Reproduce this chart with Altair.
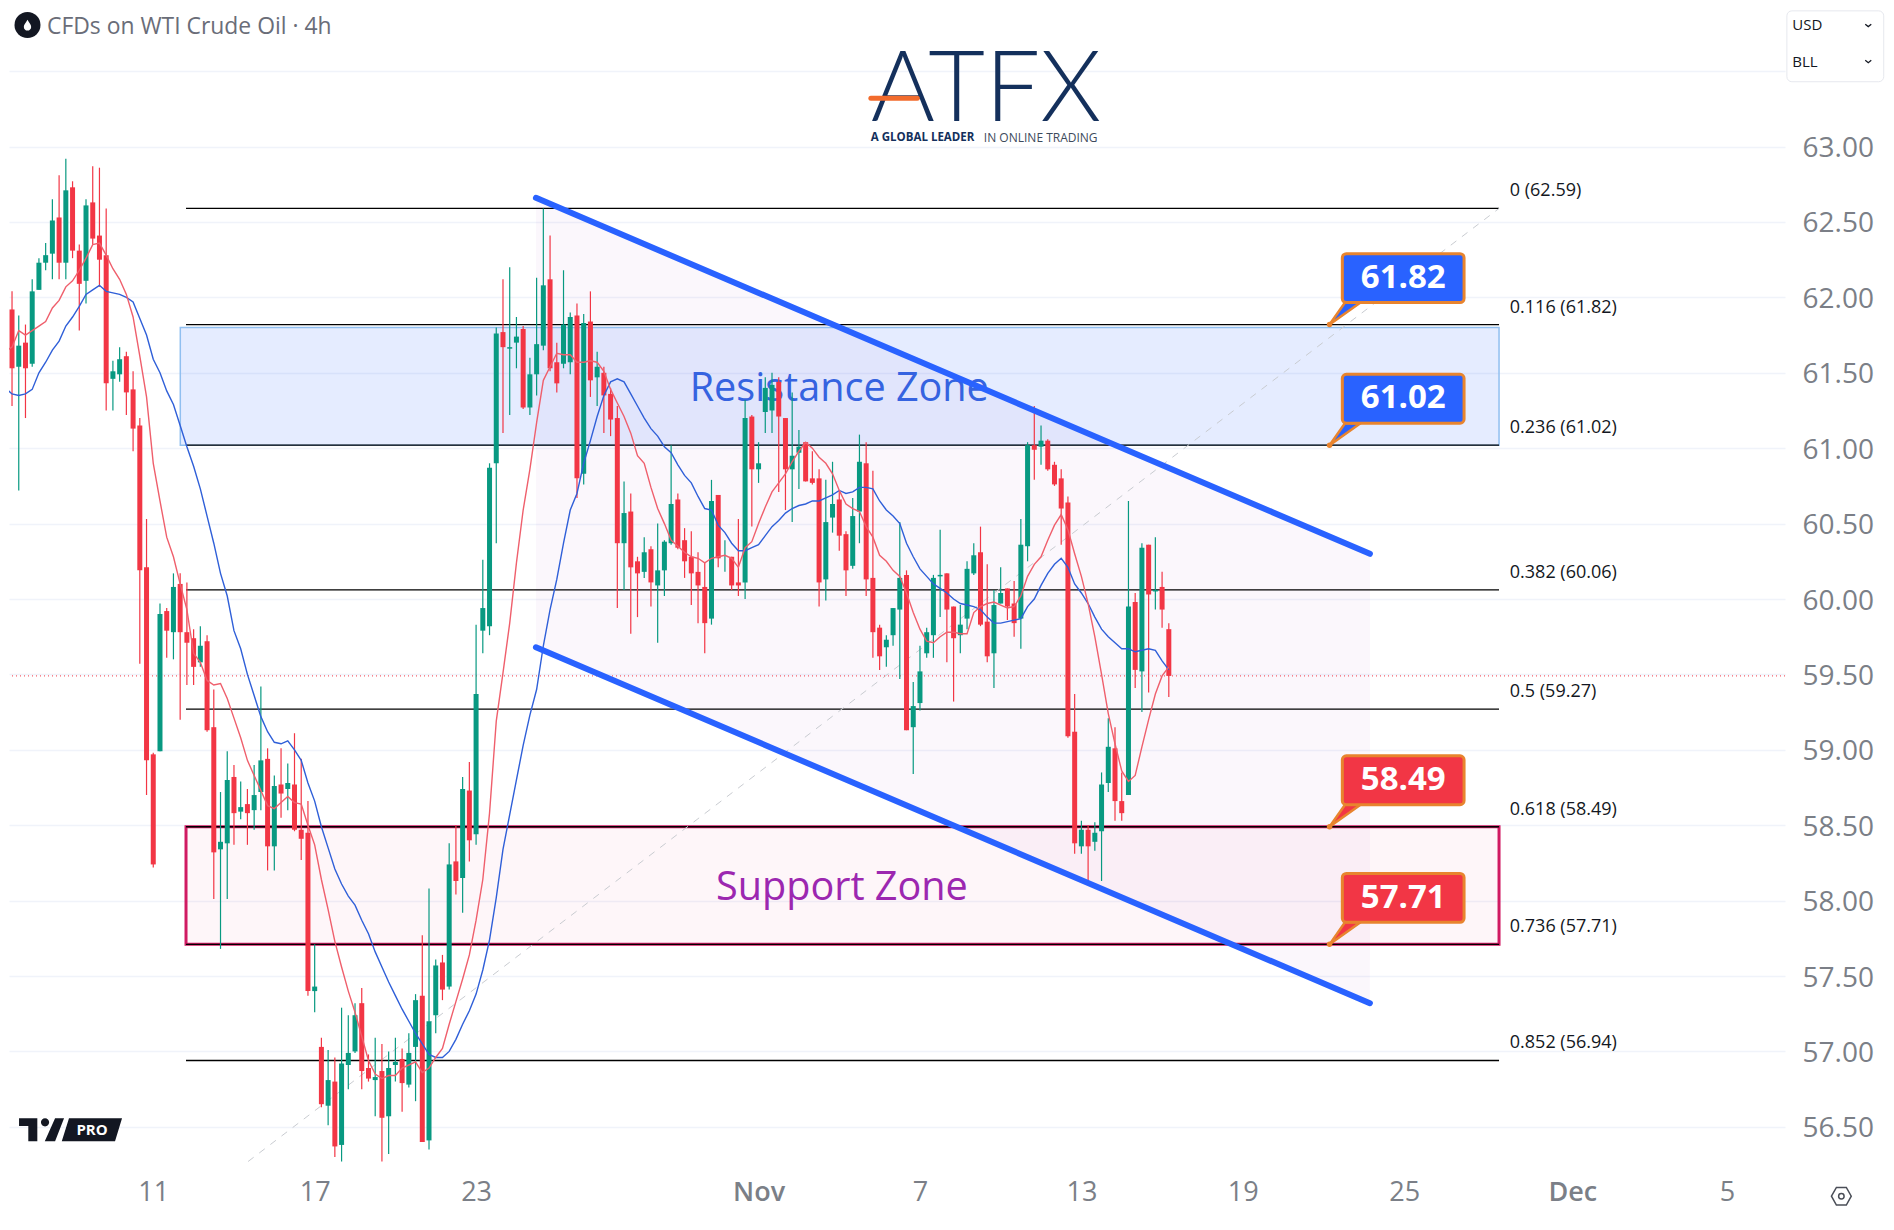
import altair as alt
import pandas as pd

# ---------------------------------------------------------------------------
# Candles (bar index = position in these lists)
# ---------------------------------------------------------------------------
highs = [
    61.96,62.04,61.88,61.82,62.12,62.26,62.36,62.65,62.81,62.92,
    62.77,62.35,62.65,62.87,62.86,62.59,61.58,61.67,61.64,61.51,
    61.20,60.53,58.98,59.97,59.94,60.17,60.17,60.11,59.80,59.82,
    59.76,59.40,58.72,58.99,58.90,58.79,58.74,58.90,59.42,59.01,
    58.83,59.01,58.91,59.11,58.94,58.66,57.71,57.09,57.01,56.96,
    57.29,57.24,57.32,57.42,56.98,57.09,57.05,57.00,57.09,57.02,
    57.12,57.38,57.77,58.08,57.61,57.64,58.38,58.50,58.82,58.92,
    59.83,60.26,60.90,61.80,62.12,62.20,61.87,61.81,61.60,62.13,
    62.59,62.41,61.70,62.18,61.90,61.96,61.89,62.04,61.64,61.54,
    61.40,61.28,60.78,60.70,60.28,60.41,60.35,60.50,60.39,61.02,
    60.70,60.47,60.45,60.31,60.24,60.79,60.69,60.39,60.28,60.53,
    61.32,61.22,61.04,61.47,61.50,61.47,61.20,61.37,61.12,61.04,
    60.98,60.86,60.79,60.91,60.72,60.45,60.67,61.09,61.04,60.85,
    59.83,59.76,59.94,60.51,60.19,59.45,59.69,59.81,60.16,60.46,
    60.17,59.95,59.96,60.25,60.37,60.48,60.23,60.06,60.21,60.07,
    60.12,60.53,61.04,61.28,61.15,61.06,60.91,60.86,60.68,59.37,
    58.53,58.50,58.52,58.85,59.21,59.15,58.85,60.65,60.04,60.37,
    60.36,60.41,60.18,59.84,
]
body_tops = [
    61.90,61.92,61.68,61.70,62.04,62.23,62.28,62.51,62.53,62.71,
    62.73,62.31,62.61,62.63,62.41,62.28,61.51,61.59,61.61,61.39,
    61.15,60.21,58.97,59.90,59.92,60.08,60.10,59.78,59.74,59.69,
    59.72,59.15,58.39,58.80,58.82,58.62,58.64,58.70,58.93,58.94,
    58.76,58.77,58.78,58.77,58.47,58.45,57.43,57.03,56.81,56.80,
    56.92,56.99,57.24,57.32,56.89,56.83,56.87,56.89,56.93,56.95,
    56.99,57.34,57.37,57.20,57.57,57.59,58.24,58.26,58.74,58.73,
    59.37,59.94,60.87,61.76,61.77,61.67,61.74,61.79,61.49,61.69,
    62.08,62.12,61.57,61.82,61.87,61.88,61.83,61.84,61.54,61.50,
    61.36,61.20,60.57,60.58,60.25,60.31,60.33,60.19,60.38,60.63,
    60.66,60.39,60.28,60.18,60.08,60.65,60.69,60.29,60.28,60.11,
    61.20,61.21,60.90,61.40,61.42,61.44,61.20,60.95,61.01,61.04,
    60.80,60.80,60.51,60.63,60.66,60.43,60.55,60.91,60.90,60.14,
    59.81,59.73,59.94,60.14,60.16,59.29,59.52,59.78,60.14,60.16,
    60.17,59.95,59.83,60.20,60.29,60.31,59.85,59.96,60.04,60.07,
    59.97,60.36,61.02,61.02,61.05,61.05,60.89,60.80,60.64,59.12,
    58.47,58.47,58.45,58.77,59.02,59.01,58.66,59.95,59.98,60.34,
    60.36,60.06,60.08,59.80,
]
body_bottoms = [
    61.74,61.53,61.54,61.53,61.56,62.05,62.23,62.29,62.23,62.23,
    62.31,62.09,62.11,62.39,62.25,61.43,61.46,61.49,61.37,61.13,
    60.19,58.93,58.24,58.99,59.79,59.78,59.78,59.71,59.55,59.58,
    59.13,58.32,58.34,58.38,58.58,58.59,58.58,58.60,58.72,58.36,
    58.36,58.71,58.74,58.47,58.41,57.40,57.40,56.65,56.64,56.37,
    56.38,56.91,57.00,56.87,56.82,56.81,56.56,56.57,56.91,56.79,
    56.78,57.03,56.40,56.41,57.24,57.41,57.43,58.13,58.15,58.40,
    58.44,59.79,59.82,60.90,61.67,61.66,61.70,61.27,61.27,61.49,
    61.68,61.53,61.43,61.56,61.57,60.80,60.83,61.45,61.47,61.35,
    61.19,60.37,60.37,60.21,60.17,60.18,60.11,60.09,60.19,60.37,
    60.34,60.25,60.17,60.09,59.84,59.87,60.27,60.29,60.09,60.09,
    60.11,60.86,60.86,61.24,61.25,61.21,60.86,60.86,60.97,60.78,
    60.77,60.11,60.13,60.54,60.42,60.19,60.22,60.58,60.13,59.78,
    59.62,59.68,59.76,59.93,59.13,59.15,59.31,59.64,59.76,60.15,
    59.93,59.74,59.76,59.87,60.17,59.83,59.62,59.64,59.97,59.95,
    59.84,59.87,60.35,60.99,61.01,60.86,60.76,60.60,59.09,58.38,
    58.36,58.36,58.39,58.46,58.78,58.66,58.58,58.70,59.53,59.52,
    60.03,60.05,59.93,59.49,
]
lows = [
    61.68,61.28,60.72,61.20,61.54,62.05,62.18,62.12,62.12,62.12,
    62.26,61.78,61.96,62.35,62.07,61.25,61.25,61.44,61.22,60.98,
    59.57,58.70,58.22,58.99,59.61,59.60,59.20,59.43,59.43,59.55,
    59.12,58.01,57.68,58.01,58.37,58.54,58.37,58.47,58.60,58.20,
    58.20,58.55,58.60,58.46,58.27,57.37,57.26,56.63,56.51,56.30,
    56.27,56.75,56.99,56.75,56.80,56.57,56.27,56.32,56.80,56.60,
    56.76,56.67,56.40,56.35,57.12,57.34,57.41,58.04,57.92,58.26,
    58.37,59.64,59.76,60.37,61.10,61.22,61.53,61.26,61.22,61.35,
    61.65,61.51,61.37,61.53,61.49,60.67,60.76,61.34,61.28,61.10,
    61.08,59.94,60.06,59.77,59.88,60.14,59.95,59.71,60.02,60.36,
    60.33,60.14,59.96,59.84,59.64,59.83,60.21,60.18,60.06,60.02,
    60.00,60.48,60.77,61.10,61.10,60.71,60.59,60.51,60.73,60.78,
    60.76,59.95,59.99,60.44,60.32,60.02,60.20,60.37,60.02,59.61,
    59.53,59.55,59.69,59.47,59.13,58.84,59.26,59.61,59.61,59.88,
    59.58,59.32,59.64,59.80,60.16,59.82,59.58,59.41,59.97,59.86,
    59.75,59.67,60.25,60.79,60.89,60.85,60.75,60.36,59.08,58.31,
    58.31,58.12,58.33,58.13,58.72,58.53,58.53,58.70,59.41,59.25,
    59.38,59.93,59.81,59.35,
]
sides = (
    "grgrggggrg" "rrgrrrggrr" "rrrgrgrrrg" "rrggrgrggr" "grgrrrgrgr" "gggrrgrggr"
    "ggrggrgrgr" "ggggrggrgg" "grrggrgrgr" "rrgrrgrggg" "rrrrrgrgrr" "grgggrrggr"
    "rrggrrggrr" "rgggrggggg" "rrgggrrggr" "rggrgrrrrr" "grgggrrgrg" "rgrr"
)
ma_fast = [
    61.64,61.67,61.78,61.75,61.78,61.81,61.84,61.93,61.98,62.07,
    62.11,62.18,62.26,62.35,62.36,62.28,62.19,62.12,62.02,61.87,
    61.61,61.34,60.90,60.65,60.41,60.28,60.10,59.93,59.64,59.58,
    59.46,59.43,59.44,59.34,59.21,59.08,58.93,58.83,58.73,58.63,
    58.61,58.65,58.69,58.65,58.64,58.50,58.37,58.14,57.94,57.73,
    57.56,57.40,57.26,57.10,56.94,56.85,56.82,56.84,56.84,56.89,
    56.91,56.93,56.86,56.89,56.96,57.02,57.18,57.33,57.48,57.64,
    57.87,58.14,58.58,59.19,59.51,59.84,60.24,60.59,60.86,61.17,
    61.45,61.54,61.63,61.62,61.62,61.57,61.57,61.58,61.57,61.51,
    61.39,61.30,61.21,61.10,60.95,60.90,60.74,60.60,60.50,60.39,
    60.35,60.31,60.28,60.27,60.24,60.27,60.28,60.29,60.27,60.21,
    60.34,60.38,60.50,60.61,60.71,60.77,60.83,60.91,60.98,61.04,
    61.00,60.94,60.90,60.83,60.72,60.63,60.60,60.58,60.48,60.41,
    60.29,60.25,60.19,60.15,60.04,59.91,59.80,59.72,59.71,59.75,
    59.78,59.78,59.77,59.77,59.91,59.95,59.97,59.98,59.96,59.94,
    59.95,60.02,60.15,60.23,60.28,60.39,60.49,60.56,60.46,60.30,
    60.15,59.97,59.75,59.50,59.24,59.04,58.86,58.79,58.83,59.02,
    59.20,59.37,59.49,59.55,
]
ma_slow = [
    61.40,61.36,61.35,61.36,61.39,61.50,61.57,61.65,61.71,61.81,
    61.87,61.94,62.02,62.05,62.08,62.04,62.03,62.02,62.00,61.97,
    61.86,61.75,61.59,61.50,61.38,61.29,61.15,61.01,60.88,60.73,
    60.55,60.37,60.17,60.02,59.79,59.67,59.50,59.36,59.22,59.12,
    59.05,59.04,59.06,59.00,58.93,58.78,58.66,58.49,58.35,58.21,
    58.11,58.03,57.97,57.87,57.78,57.66,57.56,57.46,57.37,57.28,
    57.20,57.12,57.05,56.98,56.96,56.96,57.00,57.08,57.18,57.27,
    57.38,57.54,57.74,58.02,58.34,58.57,58.80,59.03,59.23,59.40,
    59.69,59.93,60.13,60.37,60.59,60.70,60.90,61.05,61.21,61.35,
    61.44,61.46,61.44,61.36,61.28,61.20,61.13,61.08,61.01,60.97,
    60.89,60.82,60.77,60.68,60.60,60.59,60.49,60.44,60.37,60.32,
    60.32,60.34,60.36,60.42,60.48,60.52,60.57,60.60,60.62,60.63,
    60.65,60.65,60.67,60.69,60.72,60.70,60.71,60.74,60.74,60.73,
    60.65,60.59,60.55,60.50,60.37,60.28,60.20,60.15,60.10,60.07,
    60.04,60.00,59.97,59.96,59.95,59.93,59.88,59.84,59.84,59.85,
    59.86,59.87,59.95,60.00,60.09,60.17,60.23,60.27,60.21,60.10,
    60.04,59.97,59.88,59.80,59.75,59.71,59.67,59.67,59.65,59.66,
    59.67,59.66,59.59,59.53,
]

# ---------------------------------------------------------------------------
# Levels, zones, axes
# ---------------------------------------------------------------------------
fib_ratios = ["0", "0.116", "0.236", "0.382", "0.5", "0.618", "0.736", "0.852"]
fib_prices = [62.59, 61.82, 61.02, 60.06, 59.27, 58.49, 57.71, 56.94]
fib_low = 56.27
last_price = 59.49

callout_prices = [61.82, 61.02, 58.49, 57.71]
callout_colors = ["#2962ff", "#2962ff", "#f23645", "#f23645"]

price_ticks = [56.5, 57, 57.5, 58, 58.5, 59, 59.5, 60, 60.5, 61, 61.5, 62, 62.5, 63, 63.5]
time_ticks = [22, 46, 70, 112, 136, 160, 184, 208, 233, 256]
time_labels = ["11", "17", "23", "Nov", "7", "13", "19", "25", "Dec", "5"]

# plot spans 1776 x 1160 px at 6.725 px per bar, 150.8 px per 1.00
x_scale = alt.Scale(domain=[0.55, 264.62], nice=False, zero=False, padding=0)
y_scale = alt.Scale(domain=[56.227, 63.919], nice=False, zero=False, padding=0)

FONT = "Open Sans"
GREEN, RED = "#089981", "#f23645"

tick_expr = "{" + ",".join(f"{t}:'{l}'" for t, l in zip(time_ticks, time_labels)) + "}[datum.value]"
x_axis = alt.Axis(
    values=time_ticks, labelExpr=tick_expr, grid=False, ticks=False, domain=False,
    labelFont=FONT, labelFontSize=27, labelColor="#7b7f87", labelPadding=11,
    labelOverlap=False, title=None,
    labelFontWeight={"condition": {"test": "datum.value == 112 || datum.value == 233",
                                   "value": 600}, "value": 400},
)
y_axis = alt.Axis(
    orient="right", values=price_ticks, grid=True, gridColor="#f0f3fa", gridWidth=1.5,
    ticks=False, domain=False, labelFont=FONT, labelFontSize=28, labelColor="#7b7f87",
    labelPadding=17, labelOffset=2, labelOverlap=False, title=None,
    labelExpr="datum.value > 63 ? '' : format(datum.value, '.2f')",
)


def X(field="i"):
    return alt.X(field, type="quantitative", scale=x_scale, axis=x_axis)


def Y(field="p"):
    return alt.Y(field, type="quantitative", scale=y_scale, axis=y_axis)


def X2(field):
    return alt.X2(field)


def Y2(field):
    return alt.Y2(field)


def text(label, i, p, size, color, weight="normal", align="left", dy=0, font=FONT):
    return (
        alt.Chart(pd.DataFrame({"i": [i], "p": [p], "t": [label]}))
        .mark_text(font=font, fontSize=size, color=color, fontWeight=weight,
                   align=align, baseline="middle", dy=dy)
        .encode(x=X(), y=Y(), text="t:N")
    )


def icon(i, p, shape, size, **kw):
    return (
        alt.Chart(pd.DataFrame({"i": [i], "p": [p]}))
        .mark_point(shape=shape, size=size, opacity=1, **kw)
        .encode(x=X(), y=Y())
    )


def segment(i0, p0, i1, p1, color, width, **kw):
    return (
        alt.Chart(pd.DataFrame({"i": [i0, i1], "p": [p0, p1]}))
        .mark_line(color=color, strokeWidth=width, **kw)
        .encode(x=X(), y=Y())
    )


layers = []

# channel fill
layers.append(
    alt.Chart(pd.DataFrame({"i": [78.9, 202.9], "p": [62.66, 60.30], "p2": [59.68, 57.32]}))
    .mark_area(color="#9c27b0", opacity=0.04)
    .encode(x=X(), y=Y(), y2=Y2("p2"))
)

# zones
layers.append(
    alt.Chart(pd.DataFrame({"i": [26.02], "i2": [222.1], "p": [61.80], "p2": [61.02]}))
    .mark_rect(fill="#2962ff", fillOpacity=0.12, stroke="#90bff0", strokeWidth=1.5)
    .encode(x=X(), x2=X2("i2"), y=Y(), y2=Y2("p2"))
)
layers.append(
    alt.Chart(pd.DataFrame({"i": [26.87], "i2": [222.1], "p": [58.49], "p2": [57.71]}))
    .mark_rect(fill="#e91e63", fillOpacity=0.04, stroke="#d01a62", strokeWidth=3)
    .encode(x=X(), x2=X2("i2"), y=Y(), y2=Y2("p2"))
)

# fib lines and labels
fib_df = pd.DataFrame({"i": 26.87, "i2": 222.1, "p": fib_prices, "ratio": fib_ratios})
fib_df["label"] = [f"{r} ({p:.2f})" for r, p in zip(fib_ratios, fib_prices)]
layers.append(
    alt.Chart(fib_df).mark_rule(color="#000000", strokeWidth=1.3)
    .encode(x=X(), x2=X2("i2"), y=Y())
)
layers.append(
    alt.Chart(fib_df.assign(i=223.7))
    .mark_text(font=FONT, fontSize=18, color="#131722", align="left", baseline="middle", dy=-17)
    .encode(x=X(), y=Y(), text="label:N")
)
layers.append(segment(36.1, fib_low, 222.1, fib_prices[0], "#c9ccd1", 1, strokeDash=[7, 7]))

# last price
layers.append(
    alt.Chart(pd.DataFrame({"p": [last_price]}))
    .mark_rule(color=RED, strokeWidth=1, strokeDash=[1, 3])
    .encode(y=Y())
)

layers.append(text("Resistance Zone", 124.0, 61.39, 39.6, "#3563e0", align="center"))
layers.append(text("Support Zone", 124.4, 58.085, 39.6, "#9c27b0", align="center"))

# candles
candles = pd.DataFrame({
    "i": range(len(highs)), "high": highs, "low": lows,
    "top": body_tops, "bottom": body_bottoms, "side": list(sides),
})
color_enc = alt.Color("side:N", scale=alt.Scale(domain=["g", "r"], range=[GREEN, RED]), legend=None)
layers.append(
    alt.Chart(candles).mark_rule(strokeWidth=1.2, clip=True)
    .encode(x=X(), y=Y("high"), y2=Y2("low"), color=color_enc)
)
layers.append(
    alt.Chart(candles).mark_bar(size=5, clip=True)
    .encode(x=X(), y=Y("top"), y2=Y2("bottom"), color=color_enc)
)

# moving averages
ma_df = pd.DataFrame({"i": range(len(ma_fast)), "fast": ma_fast, "slow": ma_slow})
layers.append(alt.Chart(ma_df).mark_line(color="#2f5fd8", strokeWidth=1.4, clip=True).encode(x=X(), y=Y("slow")))
layers.append(alt.Chart(ma_df).mark_line(color="#ef5f6c", strokeWidth=1.4, clip=True).encode(x=X(), y=Y("fast")))

# channel lines
layers.append(segment(78.9, 62.66, 202.9, 60.30, "#2962ff", 6, strokeCap="round"))
layers.append(segment(78.9, 59.68, 202.9, 57.32, "#2962ff", 6, strokeCap="round"))

# callouts
for level, col in zip(callout_prices, callout_colors):
    tail = pd.DataFrame({
        "i": [196.9, 199.2, 201.5],
        "p": [level, level + 0.146, level + 0.146],
        "p2": [level, level + 0.073, level + 0.146],
    })
    layers.append(
        alt.Chart(tail).mark_area(fill=col, stroke="#e8842e", strokeWidth=2.5)
        .encode(x=X(), y=Y(), y2=Y2("p2"))
    )
    layers.append(
        alt.Chart(pd.DataFrame({"i": [198.8], "i2": [216.9], "p": [level + 0.47], "p2": [level + 0.146]}))
        .mark_rect(fill=col, stroke="#e8842e", strokeWidth=3, cornerRadius=4)
        .encode(x=X(), x2=X2("i2"), y=Y(), y2=Y2("p2"))
    )
    layers.append(icon(196.9, level, "circle", 30, filled=True, color="#e8842e"))
    layers.append(text(f"{level:.2f}", 207.85, level + 0.31, 33, "#ffffff", weight="bold", align="center"))

# header
layers.append(icon(3.3, 63.806, "circle", 676, filled=True, color="#131722"))
layers.append(icon(3.3, 63.806, "M0,-1 C.35,-.4 .7,-.05 .7,.35 A.7,.7 0 0 1 -.7,.35 C-.7,-.05 -.35,-.4 0,-1 Z",
                   110, filled=True, color="#ffffff", strokeWidth=0))
layers.append(text("CFDs on WTI Crude Oil · 4h", 6.2, 63.796, 22.9, "#6a6d78"))

# logo
layers.append(text("ATFX", 128.7, 63.359, 98, "#14305c", align="left", font="Lato", weight=300))
layers.append(segment(128.7, 63.32, 135.6, 63.32, "#f26b2c", 5, strokeCap="round"))
layers.append(text("A GLOBAL LEADER", 128.7, 63.06, 11.5, "#14305c", weight="bold", font=FONT))
layers.append(text("IN ONLINE TRADING", 145.5, 63.06, 12, "#3d4a5c", font=FONT))

# tradingview mark
tv_path = (
    "M-1,-.223 L-.645,-.223 L-.645,.223 L-.82,.223 L-.82,-.076 L-1,-.076 Z "
    "M-.575,-.146 A.08,.08 0 1 0 -.415,-.146 A.08,.08 0 1 0 -.575,-.146 Z "
    "M-.30,-.223 L-.126,-.223 L-.30,.223 L-.50,.223 Z "
    "M-.03,-.223 L1,-.223 L.864,.223 L-.17,.223 Z"
)
layers.append(icon(9.7, 56.48, tv_path, 10609, filled=True, color="#131722", strokeWidth=0))
layers.append(text("PRO", 12.9, 56.48, 15, "#ffffff", weight="bold", align="center"))

# currency / unit box
layers.append(
    alt.Chart(pd.DataFrame({"i": [264.9], "i2": [279.3], "p": [63.90], "p2": [63.43]}))
    .mark_rect(fill="#ffffff", stroke="#e6e8ee", strokeWidth=1, cornerRadius=5)
    .encode(x=X(), x2=X2("i2"), y=Y(), y2=Y2("p2"))
)
for label, p in zip(["USD", "BLL"], [63.804, 63.564]):
    layers.append(text(label, 265.7, p, 15, "#131722"))
    layers.append(icon(277.0, p, "M-1,-.4 L0,.4 L1,-.4", 36, filled=False, color="#131722", strokeWidth=1.3))

# settings icon
layers.append(icon(273, 56.04, "M-.9,0 L-.45,-.8 L.45,-.8 L.9,0 L.45,.8 L-.45,.8 Z", 484, filled=False,
                   color="#4a4e57", strokeWidth=1.5))
layers.append(icon(273, 56.04, "circle", 30, filled=False, color="#4a4e57", strokeWidth=1.5))

chart = (
    alt.layer(*layers)
    .properties(width=1776, height=1160, padding=0, background="#ffffff")
    .configure_view(stroke=None)
    .resolve_scale(color="independent")
)

chart.save("out.html", embed_options={"renderer": "svg", "actions": False})
